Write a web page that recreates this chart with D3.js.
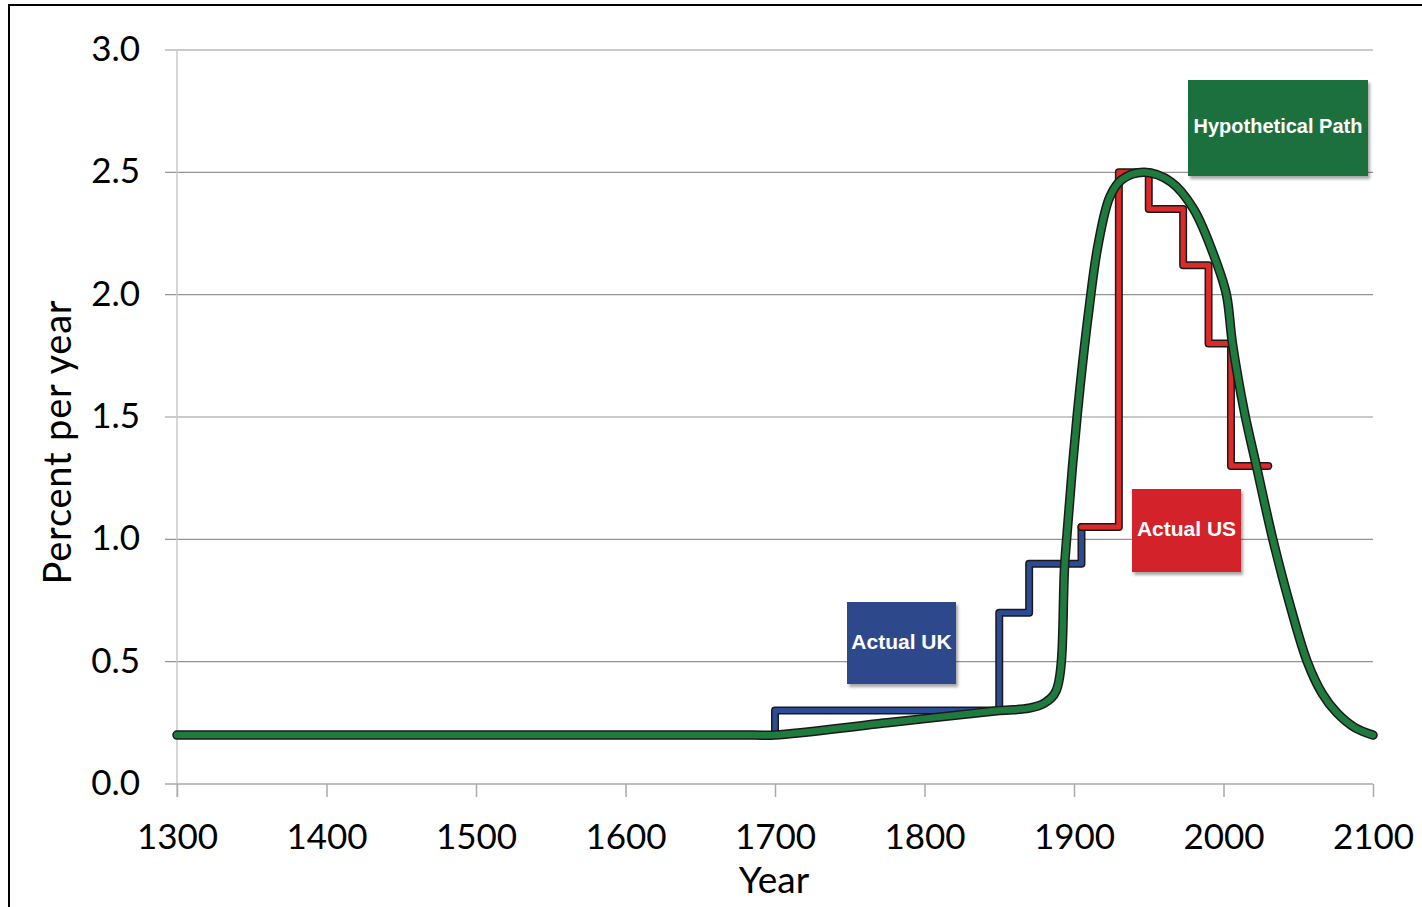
<!DOCTYPE html>
<html>
<head>
<meta charset="utf-8">
<script src="https://cdn.jsdelivr.net/npm/d3@7"></script>
<style>
  html, body { margin: 0; padding: 0; background: #ffffff; }
  svg { display: block; }
</style>
</head>
<body>
<script>
// ---- data ----
const yTicks = [0.0, 0.5, 1.0, 1.5, 2.0, 2.5, 3.0];
const xTicks = [1300, 1400, 1500, 1600, 1700, 1800, 1900, 2000, 2100];

const ukYears  = [1700, 1700, 1850, 1870, 1905];
const ukValues = [0.2, 0.3, 0.7, 0.9, 1.05];

const usYears  = [1905, 1930, 1950, 1973, 1990, 2005, 2030];
const usValues = [1.05, 2.5, 2.35, 2.12, 1.8, 1.3, 1.3];

const hypYears  = [1300, 1685, 1700, 1775, 1850, 1870, 1880, 1888, 1894, 1899, 1904, 1910, 1916, 1924, 1932, 1947,
                   1965, 1980, 1996, 2002, 2006, 2014, 2022, 2033, 2045, 2056, 2066, 2076, 2088, 2100];
const hypValues = [0.2, 0.2, 0.2, 0.25, 0.3, 0.31, 0.33, 0.38, 0.92, 1.3, 1.62, 1.94, 2.2, 2.4, 2.47, 2.5,
                   2.46, 2.35, 2.12, 2.0, 1.8, 1.52, 1.3, 1.0, 0.72, 0.5, 0.37, 0.29, 0.23, 0.2];

const labels = [
  { text: "Hypothetical Path", fill: "#1e6f3d" },
  { text: "Actual US", fill: "#d42429" },
  { text: "Actual UK", fill: "#2f4a8b" }
];

// ---- layout ----
const W = 1422, H = 907;
const svg = d3.select("body").append("svg").attr("width", W).attr("height", H);

const defs = svg.append("defs");
const f = defs.append("filter").attr("id", "shadow").attr("x", "-10%").attr("y", "-10%").attr("width", "130%").attr("height", "140%");
f.append("feDropShadow").attr("dx", 2).attr("dy", 3).attr("stdDeviation", 1.5).attr("flood-color", "#000").attr("flood-opacity", 0.35);

// frame
svg.append("line").attr("x1", 9).attr("x2", 9).attr("y1", 4).attr("y2", H).attr("stroke", "#000").attr("stroke-width", 2);
svg.append("line").attr("x1", 9).attr("x2", W).attr("y1", 5).attr("y2", 5).attr("stroke", "#000").attr("stroke-width", 2);

const x = d3.scaleLinear().domain([1300, 2100]).range([177, 1373]);
const y = d3.scaleLinear().domain([0, 3]).range([784, 50]);

const font = "Lato, 'Open Sans', sans-serif";

// gridlines
svg.append("g").selectAll("line").data(yTicks.slice(1)).join("line")
  .attr("x1", 165).attr("x2", 1373)
  .attr("y1", d => y(d)).attr("y2", d => y(d))
  .attr("stroke", "#959595").attr("stroke-width", 1.2);

// y axis line
svg.append("line").attr("x1", 177).attr("x2", 177).attr("y1", 50).attr("y2", 797)
  .attr("stroke", "#c8c8c8").attr("stroke-width", 1.5);

// x axis via d3
const xAxis = d3.axisBottom(x).tickValues(xTicks).tickFormat(d3.format("d")).tickSize(13).tickPadding(27);
const gx = svg.append("g").attr("transform", `translate(0,${y(0)})`).call(xAxis);
gx.select(".domain").remove();
gx.selectAll(".tick line").attr("stroke", "#aaaaaa").attr("stroke-width", 1.5);
gx.selectAll(".tick text").attr("fill", "#000").attr("font-family", font).attr("font-size", 35).attr("dy", "0.72em");
svg.append("line").attr("x1", 165).attr("x2", 1373).attr("y1", y(0)).attr("y2", y(0))
  .attr("stroke", "#aaaaaa").attr("stroke-width", 1.5);

// y axis labels via d3
const yAxis = d3.axisLeft(y).tickValues(yTicks).tickFormat(d3.format(".1f")).tickSize(0).tickPadding(37);
const gy = svg.append("g").attr("transform", `translate(177,0)`).call(yAxis);
gy.select(".domain").remove();
gy.selectAll(".tick text").attr("fill", "#000").attr("font-family", font).attr("font-size", 35).attr("dy", "0.3em");

// axis titles
svg.append("text").attr("x", 774).attr("y", 893).attr("text-anchor", "middle")
  .attr("font-family", font).attr("font-size", 37).attr("fill", "#000").text("Year");
svg.append("text").attr("transform", "translate(71,442) rotate(-90)").attr("text-anchor", "middle")
  .attr("font-family", font).attr("font-size", 38).attr("letter-spacing", 0.8).attr("fill", "#000").text("Percent per year");

// lines
function drawLine(years, values, curve, color, wOuter, wInner) {
  const pts = years.map((yr, i) => [yr, values[i]]);
  const gen = d3.line().x(d => x(d[0])).y(d => y(d[1])).curve(curve);
  svg.append("path").attr("d", gen(pts)).attr("fill", "none").attr("stroke", "#1a1a1a")
    .attr("stroke-width", wOuter).attr("stroke-linejoin", "round").attr("stroke-linecap", "round");
  svg.append("path").attr("d", gen(pts)).attr("fill", "none").attr("stroke", color)
    .attr("stroke-width", wInner).attr("stroke-linejoin", "round").attr("stroke-linecap", "round");
}
drawLine(ukYears, ukValues, d3.curveStepAfter, "#2d4a95", 8, 5);
drawLine(usYears, usValues, d3.curveStepAfter, "#dc2a2a", 8, 5);
drawLine(hypYears, hypValues, d3.curveCatmullRom.alpha(0.5), "#1f7a3e", 9.5, 6.5);

// label boxes
const boxes = [
  { i: 0, x0: 1188, y0: 80, w: 180, h: 96 },
  { i: 1, x0: 1132, y0: 489, w: 109, h: 83 },
  { i: 2, x0: 847, y0: 602, w: 109, h: 82 }
];
boxes.forEach(b => {
  const L = labels[b.i];
  const g = svg.append("g");
  g.append("rect").attr("x", b.x0).attr("y", b.y0).attr("width", b.w).attr("height", b.h)
    .attr("fill", L.fill).attr("filter", "url(#shadow)");
  g.append("text").attr("x", b.x0 + b.w / 2).attr("y", b.y0 + b.h / 2 - 2)
    .attr("text-anchor", "middle").attr("dominant-baseline", "central")
    .attr("font-family", "'Liberation Sans', Arial, sans-serif").attr("font-weight", "bold")
    .attr("font-size", b.i === 0 ? 20 : 21).attr("fill", "#fff").text(L.text);
});
</script>
</body>
</html>
